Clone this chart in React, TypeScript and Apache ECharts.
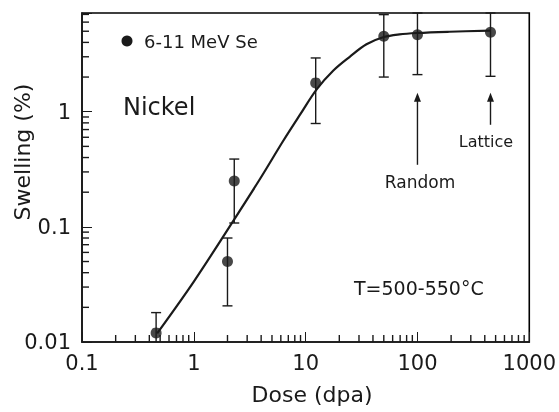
import React, { useEffect, useRef } from "react";
import * as echarts from "echarts";

// Measured points (dose in dpa, swelling in %)
const doses = [0.46, 2.0, 2.3, 12.3, 50, 100, 450];
const swelling = [0.012, 0.05, 0.25, 1.78, 4.52, 4.67, 4.9];
const errLow = [0.009, 0.0206, 0.108, 0.79, 2.0, 2.1, 2.03];
const errHigh = [0.018, 0.08, 0.388, 2.93, 6.97, 7.2, 7.2];

// Fit curve
const fitDose = [0.47, 1, 2.27, 3.93, 6.33, 8.91, 12.6, 17.7, 24.8, 35, 50, 69, 100, 193, 450];
const fitSwelling = [0.0119, 0.0335, 0.114, 0.263, 0.562, 0.942, 1.57, 2.28, 3.0, 3.85, 4.45, 4.7, 4.83, 4.95, 5.06];

// Arrows (Random, Lattice)
const arrowDose = [100, 450];
const arrowTail = [0.346, 0.77];
const arrowTip = [1.46, 1.46];

// Axis ranges and ticks
const xMin = 0.1;
const xMax = 1000;
const yMin = 0.01;
const yMax = 7.2;
const xDecades = [0.1, 1, 10, 100];
const yDecades = [0.01, 0.1, 1];
const minorMultipliers = [2, 3, 4, 5, 6, 7, 8, 9];

const FONT = "DejaVu Sans";
const INK = "#1a1a1a";

function powLabel(v: number): string {
  const l = Math.log10(v);
  const k = Math.round(l);
  if (Math.abs(l - k) > 1e-6) return "";
  const p = Math.pow(10, k);
  return k < 0 ? p.toFixed(-k) : String(Math.round(p));
}

export default function App() {
  const ref = useRef<HTMLDivElement>(null);

  useEffect(() => {
    if (!ref.current) return;
    const chart = echarts.init(ref.current, null, { renderer: "svg" });

    const points = doses.map((d, i) => [d, swelling[i]]);
    const errData = doses.map((d, i) => [d, errLow[i], errHigh[i]]);
    const fitData = fitDose.map((d, i) => [d, fitSwelling[i]]);
    const arrowData = arrowDose.map((d, i) => [d, arrowTail[i], arrowTip[i]]);

    // minor log ticks 2..9 per decade
    const xMinorData: number[][] = [];
    xDecades.forEach((d) => minorMultipliers.forEach((m) => xMinorData.push([m * d, 0.015])));
    const yMinorData: number[][] = [];
    yDecades.forEach((d) =>
      minorMultipliers.forEach((m) => {
        if (m * d <= yMax) yMinorData.push([0.15, m * d]);
      })
    );
    const TL = 7;
    const TW = 1.4;

    const texts: any[] = [
      { type: "circle", shape: { cx: 127, cy: 41, r: 5.5 }, style: { fill: INK } },
      {
        type: "text",
        x: 144,
        y: 41,
        style: { text: "6-11 MeV Se", font: `18px "${FONT}"`, fill: INK, verticalAlign: "middle", align: "left" },
      },
      {
        type: "text",
        x: 123,
        y: 107,
        style: { text: "Nickel", font: `24px "${FONT}"`, fill: INK, verticalAlign: "middle", align: "left" },
      },
      {
        type: "text",
        x: 420,
        y: 182,
        style: { text: "Random", font: `17px "${FONT}"`, fill: INK, verticalAlign: "middle", align: "center" },
      },
      {
        type: "text",
        x: 486,
        y: 141,
        style: { text: "Lattice", font: `16px "${FONT}"`, fill: INK, verticalAlign: "middle", align: "center" },
      },
      {
        type: "text",
        x: 354,
        y: 288,
        style: { text: "T=500-550°C", font: `19px "${FONT}"`, fill: INK, verticalAlign: "middle", align: "left" },
      },
      {
        type: "text",
        x: 312,
        y: 394,
        style: { text: "Dose (dpa)", font: `22px "${FONT}"`, fill: INK, verticalAlign: "middle", align: "center" },
      },
      {
        type: "text",
        x: 22,
        y: 152,
        rotation: Math.PI / 2,
        style: { text: "Swelling (%)", font: `22px "${FONT}"`, fill: INK, verticalAlign: "middle", align: "center" },
      },
    ];

    chart.setOption({
      animation: false,
      grid: {
        left: 82,
        right: 28,
        top: 13,
        bottom: 70,
        show: true,
        borderColor: "#000",
        borderWidth: 1.6,
        backgroundColor: "transparent",
      },
      xAxis: {
        type: "log",
        min: xMin,
        max: xMax,
        axisLine: { lineStyle: { color: INK, width: 1.6 } },
        axisTick: { inside: true, length: 10 },
        splitLine: { show: false },
        axisLabel: {
          formatter: (v: number) => powLabel(v),
          fontFamily: FONT,
          fontSize: 21,
          color: INK,
          margin: 10,
        },
      },
      yAxis: {
        type: "log",
        min: yMin,
        max: yMax,
        axisLine: { show: true, lineStyle: { color: INK, width: 1.6 } },
        axisTick: { show: true, inside: true, length: 10 },
        splitLine: { show: false },
        axisLabel: {
          formatter: (v: number) => powLabel(v),
          fontFamily: FONT,
          fontSize: 21,
          color: INK,
          margin: 11,
        },
      },
      series: [
        {
          type: "custom",
          data: xMinorData,
          renderItem: (params: any, api: any) => {
            const p = api.coord([api.value(0), yMin]);
            return {
              type: "rect",
              shape: { x: p[0] - TW / 2, y: p[1] - TL, width: TW, height: TL },
              style: { fill: INK },
            };
          },
        },
        {
          type: "custom",
          data: yMinorData,
          renderItem: (params: any, api: any) => {
            const p = api.coord([xMin, api.value(1)]);
            return {
              type: "rect",
              shape: { x: p[0], y: p[1] - TW / 2, width: TL, height: TW },
              style: { fill: INK },
            };
          },
        },
        {
          type: "line",
          data: fitData,
          smooth: 0.35,
          showSymbol: false,
          symbol: "none",
          lineStyle: { color: INK, width: 2.2, join: "round" },
          z: 3,
        },
        {
          type: "custom",
          data: errData,
          z: 4,
          renderItem: (params: any, api: any) => {
            const x = api.value(0);
            const lo = api.value(1);
            const hi = api.value(2);
            const pHi = api.coord([x, Math.min(hi, yMax)]);
            const pLo = api.coord([x, Math.max(lo, yMin)]);
            const cap = 5;
            const children: any[] = [
              {
                type: "line",
                shape: { x1: pLo[0], y1: pLo[1], x2: pHi[0], y2: pHi[1] },
                style: { stroke: INK, lineWidth: 1.4 },
              },
              {
                type: "line",
                shape: { x1: pHi[0] - cap, y1: pHi[1], x2: pHi[0] + cap, y2: pHi[1] },
                style: { stroke: INK, lineWidth: 1.4 },
              },
            ];
            if (lo >= yMin) {
              children.push({
                type: "line",
                shape: { x1: pLo[0] - cap, y1: pLo[1], x2: pLo[0] + cap, y2: pLo[1] },
                style: { stroke: INK, lineWidth: 1.4 },
              });
            }
            return { type: "group", children };
          },
        },
        {
          type: "scatter",
          data: points,
          symbol: "circle",
          symbolSize: 11,
          itemStyle: { color: INK },
          z: 5,
        },
        {
          type: "custom",
          data: arrowData,
          z: 4,
          renderItem: (params: any, api: any) => {
            const x = api.value(0);
            const pT = api.coord([x, api.value(1)]);
            const pH = api.coord([x, api.value(2)]);
            return {
              type: "group",
              children: [
                {
                  type: "line",
                  shape: { x1: pT[0], y1: pT[1], x2: pH[0], y2: pH[1] + 6 },
                  style: { stroke: INK, lineWidth: 1.4 },
                },
                {
                  type: "polygon",
                  shape: {
                    points: [
                      [pH[0], pH[1]],
                      [pH[0] - 3.5, pH[1] + 9],
                      [pH[0] + 3.5, pH[1] + 9],
                    ],
                  },
                  style: { fill: INK },
                },
              ],
            };
          },
        },
      ],
      graphic: texts,
    });

    return () => chart.dispose();
  }, []);

  return <div ref={ref} style={{ position: "fixed", left: 0, top: 0, width: 559, height: 412 }} />;
}
